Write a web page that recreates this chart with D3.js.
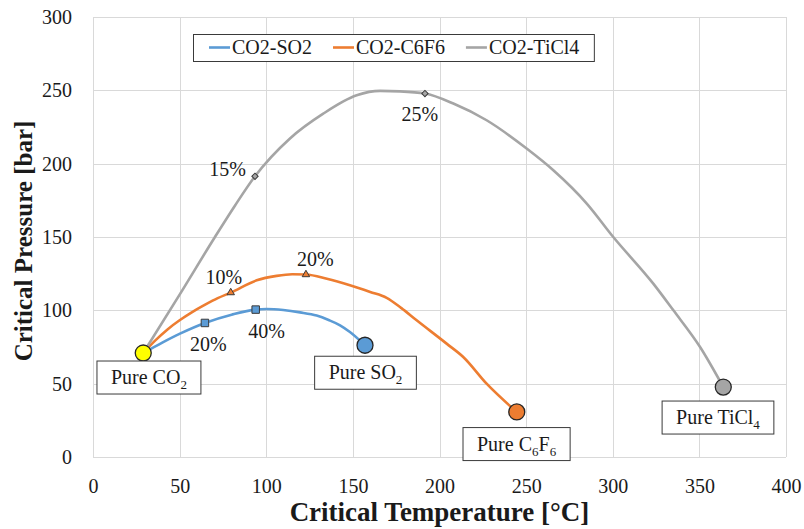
<!DOCTYPE html>
<html>
<head>
<meta charset="utf-8">
<script src="https://cdn.jsdelivr.net/npm/d3@7"></script>
<style>
body { margin: 0; background: #fff; }
</style>
</head>
<body>
<svg id="chart" width="804" height="529"></svg>
<script>
// critical curves, [temperature °C, pressure bar]
var so2Curve = [[29,70.9],[40,78],[50.2,84.1],[64.6,91.4],[80,97],[93.9,100.5],[100.3,100.9],[109.8,100.2],[119.5,98.6],[129.1,96.4],[136,93.4],[142.6,89.8],[148.3,85.2],[157,76.2]];
var c6f6Curve = [[29,70.9],[36,79.5],[43,87],[50,93.2],[57,98.6],[65,104],[72,108.3],[79.5,112.1],[94.5,120.5],[106,123.5],[115,124.6],[122.9,124.4],[135,121.5],[148.3,117.1],[160,112.5],[169.5,108.5],[178,101.5],[186.8,93.2],[204.1,77.3],[213.7,68.2],[227.2,50],[244.6,30.7]];
var ticl4Curve = [[29,70.9],[50,110.7],[70.4,150],[82,171.5],[93.5,191.4],[113.7,217.2],[132.9,234.1],[152.2,246.6],[165.7,249.6],[177.2,249.3],[191.6,247.8],[208,241],[227.2,229.6],[250.3,210.3],[265.7,195.5],[285,172.8],[300.3,150],[323.4,118.2],[335,100],[350.4,75],[363.8,47.7]];

var seriesNames = ["CO2-SO2", "CO2-C6F6", "CO2-TiCl4"];
var seriesColors = ["#5B9BD5", "#ED7D31", "#A5A5A5"];
var curves = [so2Curve, c6f6Curve, ticl4Curve];

// composition markers
var markerPts = [[[64.6,91.4],[93.9,100.5]], [[79.5,112.1],[122.9,124.4]], [[93.5,191.4],[191.6,247.8]]];
var markerLabels = [["20%","40%"], ["10%","20%"], ["15%","25%"]];

// pure components
var purePts = [[29,70.9],[157,76.2],[244.6,30.7],[363.8,47.7]];
var pureColors = ["#FFFF00", "#5B9BD5", "#ED7D31", "#A5A5A5"];
var pureLabels = [[["Pure CO",0],["2",1]], [["Pure SO",0],["2",1]], [["Pure C",0],["6",1],["F",0],["6",1]], [["Pure TiCl",0],["4",1]]];

var xTicks = [0,50,100,150,200,250,300,350,400];
var yTicks = [0,50,100,150,200,250,300];

var FONT = "'Liberation Serif'";

var svg = d3.select("#chart"),
	width = +svg.attr("width"),
	height = +svg.attr("height"),
	margin = {top: 17, right: 18, bottom: 72, left: 93};

var x = d3.scaleLinear().domain([0, 400]).range([margin.left, width - margin.right]);
var y = d3.scaleLinear().domain([0, 300]).range([height - margin.bottom, margin.top]);

// grid
svg.append("g").selectAll("line").data(yTicks).join("line")
	.attr("x1", x(0)).attr("x2", x(400))
	.attr("y1", d => Math.round(y(d)) + 0.5).attr("y2", d => Math.round(y(d)) + 0.5)
	.attr("stroke", "#d9d9d9");
svg.append("g").selectAll("line").data(xTicks).join("line")
	.attr("y1", y(0)).attr("y2", y(300))
	.attr("x1", d => Math.round(x(d)) + 0.5).attr("x2", d => Math.round(x(d)) + 0.5)
	.attr("stroke", "#d9d9d9");

// axes (labels only)
var xAxis = svg.append("g").attr("transform", "translate(0," + (y(0) + 22) + ")")
	.call(d3.axisBottom(x).tickValues(xTicks).tickSize(0).tickPadding(0));
var yAxis = svg.append("g").attr("transform", "translate(" + (x(0) - 21) + ",0)")
	.call(d3.axisLeft(y).tickValues(yTicks).tickSize(0).tickPadding(0));
[xAxis, yAxis].forEach(function(a) {
	a.attr("font-family", null).attr("font-size", null);
	a.select(".domain").remove();
	a.selectAll("text").attr("font-size", 20);
});
xAxis.selectAll("text").attr("dy", "0.71em");

svg.append("text")
	.attr("x", (x(0) + x(400)) / 2).attr("y", 521)
	.attr("text-anchor", "middle").attr("font-size", 27).attr("font-weight", "bold")
	.text("Critical Temperature [°C]");
svg.append("text")
	.attr("transform", "translate(32," + ((y(0) + y(300)) / 2 + 4) + ") rotate(-90)")
	.attr("text-anchor", "middle").attr("font-size", 25).attr("font-weight", "bold")
	.text("Critical Pressure [bar]");

// curves
var line = d3.line().x(d => x(d[0])).y(d => y(d[1])).curve(d3.curveMonotoneX);
curves.forEach(function(c, i) {
	svg.append("path").datum(c)
		.attr("d", line)
		.attr("fill", "none")
		.attr("stroke", seriesColors[i])
		.attr("stroke-width", 2.6)
		.attr("stroke-linejoin", "round");
});

// markers
var symbols = [d3.symbol(d3.symbolSquare, 56), d3.symbol(d3.symbolTriangle, 24), d3.symbol(d3.symbolSquare, 20)];
var labelOff = [[[3.5,28],[11,28]], [[-7,-9],[9.5,-9]], [[-27.5,0],[-5,27]]];
markerPts.forEach(function(pts, i) {
	pts.forEach(function(p, j) {
		svg.append("path")
			.attr("d", symbols[i]())
			.attr("transform", "translate(" + x(p[0]) + "," + y(p[1]) + ")" + (i == 2 ? " rotate(45)" : ""))
			.attr("fill", seriesColors[i])
			.attr("stroke", "#3a3a3a")
			.attr("stroke-width", 1);
		svg.append("text")
			.attr("x", x(p[0]) + labelOff[i][j][0])
			.attr("y", y(p[1]) + labelOff[i][j][1])
			.attr("text-anchor", "middle")
			.attr("font-size", 20)
			.text(markerLabels[i][j]);
	});
});

// pure component points and boxed labels
var boxOff = [[5.7,8], [0.5,11], [-0.2,15.6], [-5.3,14]];
purePts.forEach(function(p, i) {
	svg.append("circle")
		.attr("cx", x(p[0])).attr("cy", y(p[1])).attr("r", 8)
		.attr("fill", pureColors[i])
		.attr("stroke", "#262626").attr("stroke-width", 1.3);
});
var pureBoxes = [];
purePts.forEach(function(p, i) {
	var g = svg.append("g");
	var rect = g.append("rect");
	var t = g.append("text").attr("font-size", 20).attr("text-anchor", "middle");
	var shift = 0;
	pureLabels[i].forEach(function(part) {
		var dy = part[1] ? 5 - shift : -shift;
		shift = part[1] ? 5 : 0;
		t.append("tspan").attr("dy", dy).attr("font-size", part[1] ? 13 : 20).text(part[0]);
	});
	var cx = x(p[0]) + boxOff[i][0], top = y(p[1]) + boxOff[i][1];
	t.attr("x", cx).attr("y", top + 23);
	pureBoxes.push([rect, t, cx, top]);
});

// legend
var lg = svg.append("g");
var lgRect = lg.append("rect");
var lgItems = seriesNames.map(function(n, i) {
	var ln = lg.append("line").attr("y1", 47.5).attr("y2", 47.5)
		.attr("stroke", seriesColors[i]).attr("stroke-width", 2.6);
	var t = lg.append("text").attr("y", 54).attr("font-size", 20).text(n);
	return [ln, t];
});

svg.selectAll("text").style("font-family", FONT).attr("fill", "#1a1a1a");

// sizes that depend on text widths
pureBoxes.forEach(function(b) {
	var w = b[1].node().getComputedTextLength() + 28;
	b[0].attr("x", b[2] - w / 2).attr("y", b[3]).attr("width", w).attr("height", 33)
		.attr("fill", "#fff").attr("stroke", "#3a3a3a").attr("stroke-width", 1);
});
var lx = 209;
lgItems.forEach(function(it) {
	it[0].attr("x1", lx).attr("x2", lx + 21);
	it[1].attr("x", lx + 23);
	lx += 23 + it[1].node().getComputedTextLength() + 21;
});
lgRect.attr("x", 193.5).attr("y", 34.5).attr("width", lx - 21 + 15 - 193.5).attr("height", 27)
	.attr("fill", "#fff").attr("stroke", "#3a3a3a").attr("stroke-width", 1);
</script>
</body>
</html>
